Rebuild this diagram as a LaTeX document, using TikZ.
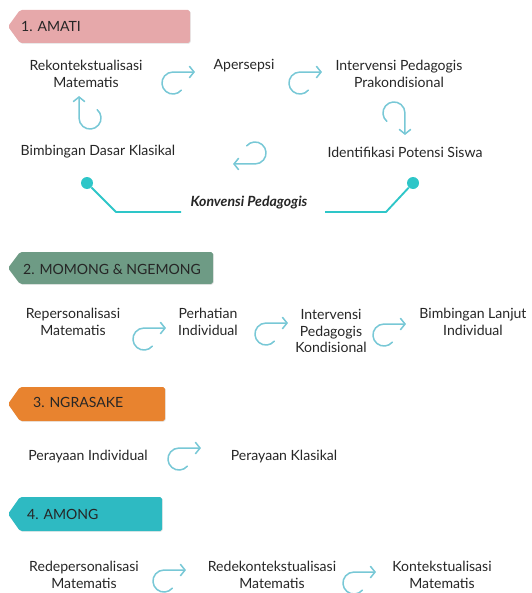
\documentclass[tikz,border=0pt]{standalone}
\usepackage{fontspec}
\setmainfont{Lato}
\usetikzlibrary{arrows.meta,shadows}
\definecolor{amati}{HTML}{E6A8AA}
\definecolor{momong}{HTML}{6E9B85}
\definecolor{ngrasake}{HTML}{E8832F}
\definecolor{among}{HTML}{2EBAC2}
\definecolor{konv}{HTML}{2EC6C8}
\definecolor{curlc}{HTML}{78C8D6}
\definecolor{ink}{HTML}{262626}
\begin{document}
\begin{tikzpicture}[x=.03cm,y=-.03cm,line join=round,
  txt/.style={align=center,text=ink,font=\fontsize{12}{14}\selectfont},
  tag/.style={anchor=west,text=ink,inner sep=0pt,font=\fontsize{12}{14}\selectfont},
  band/.style={rounded corners=1.5pt,drop shadow={shadow xshift=.6pt,shadow yshift=-.6pt,opacity=.25}},
  dot/.style={circle,fill=konv,inner sep=0pt,minimum size=.36cm},
  curl/.pic={\draw[curlc,line width=1.3pt,line cap=round,-{Straight Barb[length=4pt,width=10pt]}]
     (8.4,7.1) arc[start angle=40,end angle=270,radius=11] -- ++(22,0);}]
\useasboundingbox (0,0) rectangle (531,593);
% 1. AMATI
\fill[amati,band] (8,26.5) -- (20,10) -- (190,10) -- (190,43) -- (20,43) -- cycle;
\node[tag] (t1) at (21,27) {1. AMATI};
\node[txt] (rkm) at (86,74) {Rekontekstualisasi\\Matematis};
\node[txt] (ap) at (244,66) {Apersepsi};
\node[txt] (ipp) at (399,74) {Intervensi Pedagogis\\Prakondisional};
\node[txt] (ips) at (405,152) {Identifikasi Potensi Siswa};
\node[txt] (bdk) at (98,152) {Bimbingan Dasar Klasikal};
\node[txt,font=\fontsize{12}{14}\selectfont\bfseries\itshape] (kp) at (249,203) {Konvensi Pedagogis};
\pic at (173,83) {curl};
\pic at (300,83) {curl};
\pic[rotate=-90] at (394,113) {curl};
\pic[rotate=180] at (255,153) {curl};
\pic[rotate=90] at (90,118) {curl};
\node[dot] (d1) at (87,183) {};
\node[dot] (d2) at (413,183) {};
\coordinate (k1) at (116,212);
\coordinate (e1) at (181,212);
\coordinate (k2) at (386,212);
\coordinate (e2) at (325,212);
\draw[konv,line width=1.6pt] (d1) -- (k1) -- (e1);
\draw[konv,line width=1.6pt] (d2) -- (k2) -- (e2);
% 2. MOMONG & NGEMONG
\fill[momong,band] (8,268) -- (20,252) -- (213,252) -- (213,284) -- (20,284) -- cycle;
\node[tag] (t2) at (23,269) {2. MOMONG \& NGEMONG};
\node[txt] (rpm) at (73,322) {Repersonalisasi\\Matematis};
\node[txt] (phi) at (208,322) {Perhatian\\Individual};
\node[txt] (ipk) at (331,331) {Intervensi\\Pedagogis\\Kondisional};
\node[txt] (bli) at (473,322) {Bimbingan Lanjut\\Individual};
\pic at (144,339) {curl};
\pic at (266,334) {curl};
\pic at (384,335) {curl};
% 3. NGRASAKE
\fill[ngrasake,band] (8,404) -- (20,387) -- (165,387) -- (165,421) -- (20,421) -- cycle;
\node[tag] (t3) at (33,402) {3. NGRASAKE};
\node[txt] (pi) at (88,457) {Perayaan Individual};
\node[txt] (pk) at (284,457) {Perayaan Klasikal};
\pic at (179,459) {curl};
% 4. AMONG
\fill[among,band] (8,514) -- (20,497) -- (162,497) -- (162,531) -- (20,531) -- cycle;
\node[tag] (t4) at (27,514) {4. AMONG};
\node[txt] (rdp) at (84,575) {Redepersonalisasi\\Matematis};
\node[txt] (rdk) at (272,575) {Redekontekstualisasi\\Matematis};
\node[txt] (kon) at (442,575) {Kontekstualisasi\\Matematis};
\pic at (164,581) {curl};
\pic at (354,583) {curl};
\end{tikzpicture}
\end{document}
